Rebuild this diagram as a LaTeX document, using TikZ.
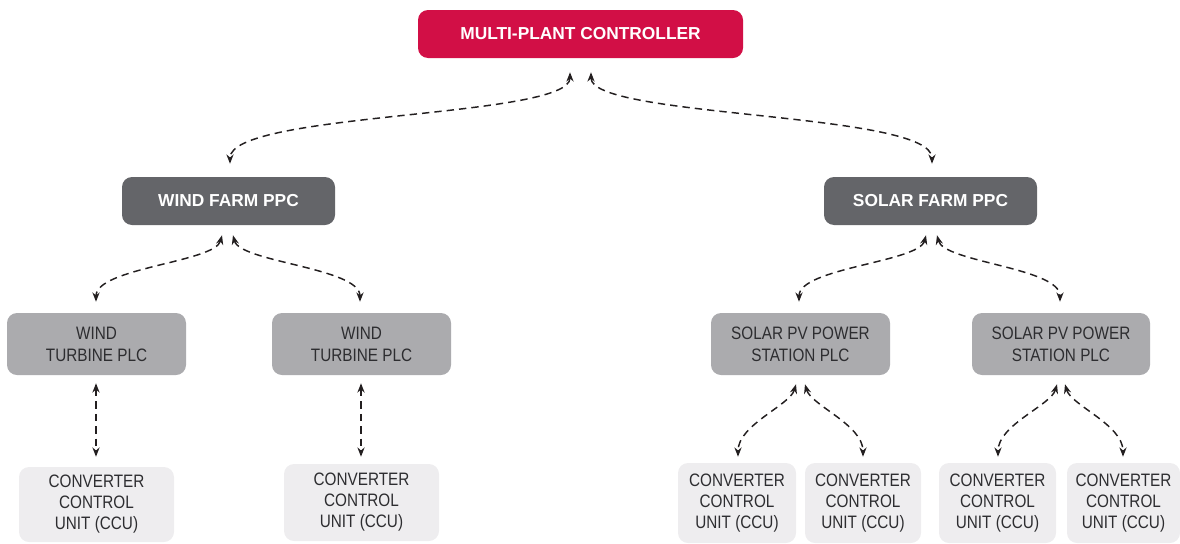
\documentclass[tikz,border=0pt]{standalone}
\usepackage{fontspec}
\setmainfont{Liberation Sans}
\newfontfamily\condf{Liberation Sans}[FakeStretch=0.85]
\usetikzlibrary{arrows.meta,calc}
\definecolor{mpcred}{RGB}{210,15,70}
\definecolor{ppcgray}{RGB}{100,101,105}
\definecolor{plcgray}{RGB}{171,171,174}
\definecolor{ccugray}{RGB}{238,237,239}
\definecolor{txtdark}{RGB}{45,45,48}
\definecolor{linedark}{RGB}{35,31,32}
\tikzset{
  x=0.75pt, y=-0.75pt,
  basebox/.style={rounded corners=7.5pt, align=center, inner sep=0pt, draw=none},
  topbox/.style={basebox, fill=mpcred, text=white, font=\fontsize{13pt}{16pt}\selectfont\bfseries},
  ppcbox/.style={basebox, fill=ppcgray, text=white, font=\fontsize{13pt}{16pt}\selectfont\bfseries, minimum width=159.75pt, minimum height=36pt},
  plcbox/.style={basebox, fill=plcgray, text=txtdark, font=\condf\fontsize{13.5pt}{16.5pt}\selectfont, minimum height=46.5pt},
  ccubox/.style={basebox, fill=ccugray, text=txtdark, font=\condf\fontsize{13.5pt}{15.75pt}\selectfont},
  link/.style={draw=linedark, line width=1.1pt, dash pattern=on 5.5pt off 3.8pt,
    {Stealth[length=7pt,width=5.4pt]}-{Stealth[length=7pt,width=5.4pt]}}
}
\begin{document}
\begin{tikzpicture}
\useasboundingbox (0,0) rectangle (1180,543);
% nodes
\node[topbox, minimum width=243.75pt, minimum height=36pt] (mpc) at (580.5,34) {MULTI-PLANT CONTROLLER};
\node[ppcbox] (wppc) at (228.5,201) {WIND FARM PPC};
\node[ppcbox] (sppc) at (930.5,201) {SOLAR FARM PPC};
\node[plcbox, minimum width=134.25pt] (wplc1) at (96.5,344) {WIND\\TURBINE PLC};
\node[plcbox, minimum width=134.25pt] (wplc2) at (361.5,344) {WIND\\TURBINE PLC};
\node[plcbox, minimum width=134.25pt] (splc1) at (800.5,344) {SOLAR PV POWER\\STATION PLC};
\node[plcbox, minimum width=133.5pt] (splc2) at (1061,344) {SOLAR PV POWER\\STATION PLC};
\node[ccubox, minimum width=116.25pt, minimum height=56.25pt] (wccu1) at (96.5,504.5) {CONVERTER\\CONTROL\\UNIT (CCU)};
\node[ccubox, minimum width=116.25pt, minimum height=57.75pt] (wccu2) at (361.5,502.5) {CONVERTER\\CONTROL\\UNIT (CCU)};
\node[ccubox, minimum width=88.5pt, minimum height=60pt] (sccu1) at (737,503) {CONVERTER\\CONTROL\\UNIT (CCU)};
\node[ccubox, minimum width=87pt, minimum height=60pt] (sccu2) at (863,503) {CONVERTER\\CONTROL\\UNIT (CCU)};
\node[ccubox, minimum width=87.75pt, minimum height=60pt] (sccu3) at (997.5,503) {CONVERTER\\CONTROL\\UNIT (CCU)};
\node[ccubox, minimum width=84.75pt, minimum height=60pt] (sccu4) at (1123.5,503) {CONVERTER\\CONTROL\\UNIT (CCU)};
% top level links
\draw[link] ($(mpc.south)+(-10.5,14)$) .. controls ($(mpc.south)+(-10.5,60)$) and ($(wppc.north)+(1.5,-65)$) .. ($(wppc.north)+(1.5,-13)$);
\draw[link] ($(mpc.south)+(10.5,14)$) .. controls ($(mpc.south)+(10.5,60)$) and ($(sppc.north)+(1.5,-65)$) .. ($(sppc.north)+(1.5,-13)$);
% wind farm links
\draw[link] ($(wppc.south)+(-6.5,10)$) .. controls ($(wppc.south)+(-13.5,37)$) and ($(wplc1.north)+(-0.5,-45)$) .. ($(wplc1.north)+(-0.5,-11)$);
\draw[link] ($(wppc.south)+(4.5,10)$) .. controls ($(wppc.south)+(11.5,37)$) and ($(wplc2.north)+(-1.5,-45)$) .. ($(wplc2.north)+(-1.5,-11)$);
% solar farm links
\draw[link] ($(sppc.south)+(-4.5,10)$) .. controls ($(sppc.south)+(-11.5,37)$) and ($(splc1.north)+(-1.5,-45)$) .. ($(splc1.north)+(-1.5,-11)$);
\draw[link] ($(sppc.south)+(6.5,10)$) .. controls ($(sppc.south)+(13.5,37)$) and ($(splc2.north)+(-1,-45)$) .. ($(splc2.north)+(-1,-11)$);
% wind PLC to CCU
\draw[link] ($(wplc1.south)+(-0.5,8)$) -- ($(wccu1.north)+(-0.5,-10)$);
\draw[link] ($(wplc2.south)+(-0.5,8)$) -- ($(wccu2.north)+(-0.5,-7)$);
% solar PLC to CCU
\draw[link] ($(splc1.south)+(-4.5,9)$) .. controls ($(splc1.south)+(-10.5,30)$) and ($(sccu1.north)+(1,-38)$) .. ($(sccu1.north)+(1,-6)$);
\draw[link] ($(splc1.south)+(4.5,9)$) .. controls ($(splc1.south)+(10.5,30)$) and ($(sccu2.north)+(0,-38)$) .. ($(sccu2.north)+(0,-6)$);
\draw[link] ($(splc2.south)+(-4,9)$) .. controls ($(splc2.south)+(-10,30)$) and ($(sccu3.north)+(0.5,-38)$) .. ($(sccu3.north)+(0.5,-6)$);
\draw[link] ($(splc2.south)+(4,9)$) .. controls ($(splc2.south)+(10,30)$) and ($(sccu4.north)+(-0.5,-38)$) .. ($(sccu4.north)+(-0.5,-6)$);
\end{tikzpicture}
\end{document}
